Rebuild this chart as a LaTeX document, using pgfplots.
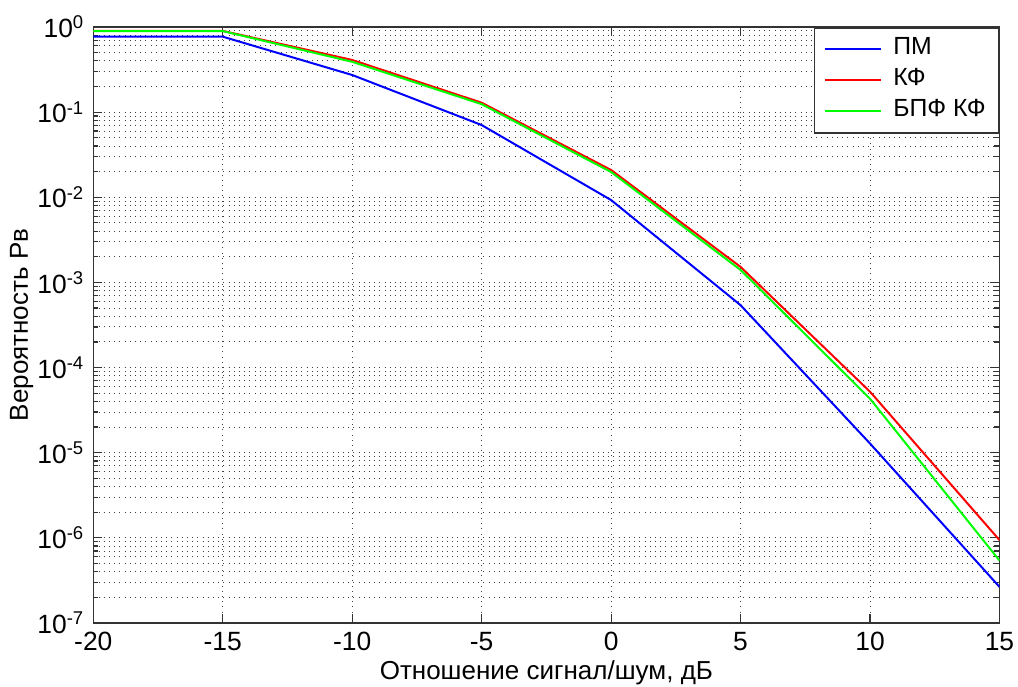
\documentclass[border=0pt]{standalone}
\usepackage{fontspec}
\setmainfont{Liberation Sans}
\usepackage{pgfplots}
\pgfplotsset{compat=1.18}
\definecolor{mblue}{rgb}{0,0,1}
\definecolor{mred}{rgb}{1,0,0}
\definecolor{mgreen}{rgb}{0,1,0}
\begin{document}
\begin{tikzpicture}
\begin{axis}[
  scale only axis,
  width=453pt, height=297.9pt,
  xmin=-20, xmax=15,
  ymode=log, ymin=1e-7, ymax=1,
  xtick={-20,-15,-10,-5,0,5,10,15},
  xticklabels={-20,-15,-10,-5,0,5,10,15},
  ytick={1e-7,1e-6,1e-5,1e-4,1e-3,1e-2,1e-1,1},
  yticklabels={10\textsuperscript{-7},10\textsuperscript{-6},10\textsuperscript{-5},10\textsuperscript{-4},10\textsuperscript{-3},10\textsuperscript{-2},10\textsuperscript{-1},10\textsuperscript{0}},
  tick label style={font=\fontsize{13.2}{15}\selectfont},
  xticklabel style={yshift=-1pt},
  yticklabel style={xshift=-1pt},
  grid=both,
  major grid style={black!75, line width=0.45pt, dash pattern=on 0.5pt off 2.1pt},
  minor grid style={black!75, line width=0.45pt, dash pattern=on 0.5pt off 2.1pt},
  axis line style={black!80, line width=0.8pt},
  tick style={black!80, line width=0.6pt},
  tick align=inside,
  major tick length=4.5pt,
  minor tick length=2.5pt,
  xlabel={Отношение сигнал/шум, дБ},
  ylabel={Вероятность Рв},
  label style={font=\fontsize{13}{15}\selectfont},
  xlabel style={at={(axis description cs:0.5,-0.0844)}, anchor=center},
  ylabel style={at={(axis description cs:-0.079,0.5)}, anchor=center},
  legend style={at={(rel axis cs:1,1)}, anchor=north east, draw=black!80, line width=0.8pt, fill=white,
    font=\fontsize{12.4}{14}\selectfont, inner xsep=5pt, inner ysep=4.5pt, row sep=3pt, column sep=4pt,
    nodes={inner sep=1.5pt, text height=0.75em, text depth=0.2em}},
  legend cell align=left,
  legend image code/.code={\draw[#1, line width=1pt] (0pt,0pt) -- (28pt,0pt);},
]
\addplot[mblue, line width=1pt] coordinates {
  (-20,0.77) (-15,0.77) (-10,0.273) (-5,0.0705) (0,0.00927) (5,5.4e-4) (10,1.28e-5) (15,2.65e-7)
};
\addlegendentry{ПМ}
\addplot[mred, line width=1pt] coordinates {
  (-20,0.90) (-15,0.90) (-10,0.41) (-5,0.129) (0,0.0209) (5,1.52e-3) (10,5.2e-5) (15,9.4e-7)
};
\addlegendentry{КФ}
\addplot[mgreen, line width=1pt] coordinates {
  (-20,0.895) (-15,0.895) (-10,0.39) (-5,0.124) (0,0.0198) (5,1.40e-3) (10,4.3e-5) (15,5.4e-7)
};
\addlegendentry{БПФ КФ}
\coordinate (sw) at (rel axis cs:0,0);
\coordinate (ne) at (rel axis cs:1,1);
\end{axis}
\pgfresetboundingbox
\path[use as bounding box] ([shift={(-46.65pt,-31.65pt)}]sw) rectangle ([shift={(9.25pt,13.5pt)}]ne);
\end{tikzpicture}
\end{document}
